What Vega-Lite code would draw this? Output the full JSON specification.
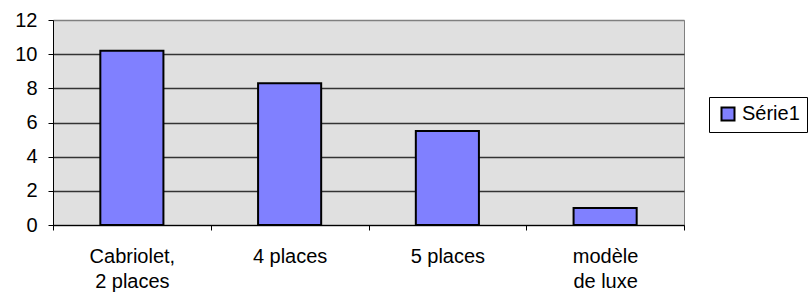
{
  "$schema": "https://vega.github.io/schema/vega-lite/v6.json",
  "width": 631,
  "height": 205,
  "autosize": "none",
  "padding": {"left": 53, "top": 20, "right": 124, "bottom": 73},
  "background": "white",
  "data": {"values": [
    {"cat": "Cabriolet,|2 places", "val": 10.2, "serie": "Série1"},
    {"cat": "4 places", "val": 8.3, "serie": "Série1"},
    {"cat": "5 places", "val": 5.5, "serie": "Série1"},
    {"cat": "modèle|de luxe", "val": 1.0, "serie": "Série1"}
  ]},
  "config": {
    "view": {"fill": "#E0E0E0", "stroke": "#808080", "strokeWidth": 1},
    "font": "Liberation Sans",
    "axis": {"domainColor": "black", "tickColor": "black", "tickSize": 5, "domainWidth": 1, "tickWidth": 1}
  },
  "mark": {"type": "bar", "fill": "#8080FF", "stroke": "black", "strokeWidth": 2, "width": {"band": 0.4}},
  "encoding": {
    "x": {
      "field": "cat", "type": "nominal", "sort": null,
      "scale": {"paddingInner": 0, "paddingOuter": 0},
      "axis": {"title": null, "labelAngle": 0, "tickBand": "extent", "labelExpr": "split(datum.label, '|')", "labelLineHeight": 25, "labelPadding": 16, "grid": false,
        "labelFont": "Liberation Sans", "labelFontSize": 20, "labelColor": "black"}
    },
    "y": {
      "field": "val", "type": "quantitative",
      "scale": {"domain": [0, 12], "nice": false},
      "axis": {"title": null, "values": [0, 2, 4, 6, 8, 10, 12], "labelPadding": 11, "grid": true,
        "labelFont": "Liberation Sans", "labelFontSize": 20, "labelColor": "black",
        "gridColor": {"condition": {"test": "datum.value == 12", "value": "#808080"}, "value": "#333333"}, "gridWidth": 1.3}
    },
    "fill": {
      "field": "serie", "type": "nominal",
      "scale": {"range": ["#8080FF"]},
      "legend": {"title": null, "orient": "none", "legendX": 656, "legendY": 77, "strokeColor": "black", "fillColor": "white", "padding": 7, "symbolType": "square", "symbolSize": 169, "symbolStrokeColor": "black", "symbolStrokeWidth": 2, "labelFont": "Liberation Sans", "labelFontSize": 20, "labelColor": "black", "symbolOffset": 2, "labelOffset": 4}
    }
  }
}
